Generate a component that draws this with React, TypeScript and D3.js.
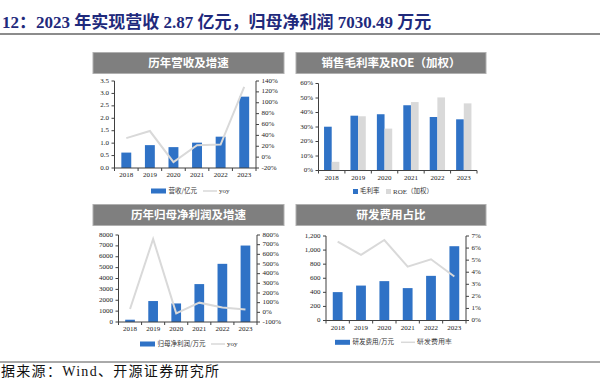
import React from "react";
import * as d3 from "d3";

const years = ["2018", "2019", "2020", "2021", "2022", "2023"];
// Panel 1
const revenue = [0.62, 0.92, 0.84, 1.02, 1.26, 2.87];
const revenueYoy = [35, 48, -9, 22, 23, 129];
const revTicks = [0, 0.5, 1.0, 1.5, 2.0, 2.5, 3.0, 3.5];
const revYoyTicks = [-20, 0, 20, 40, 60, 80, 100, 120, 140];
// Panel 2
const grossMargin = [30.2, 37.8, 38.8, 45.0, 36.9, 35.3];
const roe = [6.0, 37.4, 28.9, 47.2, 50.4, 46.3];
const marginTicks = [0, 10, 20, 30, 40, 50, 60];
// Panel 3
const netProfit = [210, 1927, 1706, 3486, 5349, 7030.49];
const netProfitYoy = [34, 759, -11, 100, 50, 30];
const profitTicks = [0, 1000, 2000, 3000, 4000, 5000, 6000, 7000, 8000];
const profitYoyTicks = [-100, 0, 100, 200, 300, 400, 500, 600, 700, 800];
// Panel 4
const rdExpense = [403, 496, 559, 460, 634, 1055];
const rdRatio = [6.53, 5.43, 6.67, 4.46, 5.07, 3.64];
const rdTicks = [0, 200, 400, 600, 800, 1000, 1200];
const rdRatioTicks = [0, 1, 2, 3, 4, 5, 6, 7];

const titleText = "12：2023 年实现营收 2.87 亿元，归母净利润 7030.49 万元";
const sourceText = "据来源：Wind、开源证券研究所";

const BLUE = "#2F72C6";
const GRAY = "#D9D9D9";
const AXIS = "#404040";
const SERIF = "'Liberation Serif', 'Times New Roman', serif";
const CJK = "'Noto Sans CJK SC', sans-serif";

type Geo = { x0: number; x1: number; yTop: number; yBot: number };

function Header({ x, y, w, h, text }: { x: number; y: number; w: number; h: number; text: string }) {
  return (
    <g>
      <rect x={x} y={y} width={w} height={h} fill="#7F7F7F" stroke="#B0B0B0" strokeWidth={1} />
      <text x={x + w / 2} y={y + h / 2 + 0.5} textAnchor="middle" dominantBaseline="middle"
        fill="#fff" fontFamily={CJK} fontWeight={700} fontSize={11.5}>{text}</text>
    </g>
  );
}

function XAxis({ g, x }: { g: Geo; x: d3.ScaleBand<string> }) {
  const step = x.step();
  const bounds = d3.range(years.length + 1).map((i) => g.x0 + i * step);
  return (
    <g>
      <line x1={g.x0} x2={g.x1} y1={g.yBot} y2={g.yBot} stroke={AXIS} strokeWidth={1} />
      {bounds.map((b, i) => (
        <line key={i} x1={b} x2={b} y1={g.yBot} y2={g.yBot + 3} stroke={AXIS} strokeWidth={1} />
      ))}
      {years.map((yr) => (
        <text key={yr} x={(x(yr) as number) + x.bandwidth() / 2} y={g.yBot + 7.5}
          textAnchor="middle" dominantBaseline="middle" fontFamily={SERIF} fontSize={7} fill="#222">{yr}</text>
      ))}
    </g>
  );
}

function YAxis({ g, scale, ticks, fmt, side }: {
  g: Geo; scale: d3.ScaleLinear<number, number>; ticks: number[]; fmt: (v: number) => string; side: "left" | "right";
}) {
  const ax = side === "left" ? g.x0 : g.x1;
  const dir = side === "left" ? -1 : 1;
  return (
    <g>
      <line x1={ax} x2={ax} y1={g.yTop} y2={g.yBot} stroke={AXIS} strokeWidth={1} />
      {ticks.map((t) => (
        <g key={t}>
          <line x1={ax} x2={ax + dir * 3} y1={scale(t)} y2={scale(t)} stroke={AXIS} strokeWidth={1} />
          <text x={ax + dir * 5.5} y={scale(t)} textAnchor={side === "left" ? "end" : "start"}
            dominantBaseline="middle" fontFamily={SERIF} fontSize={7} fill="#222">{fmt(t)}</text>
        </g>
      ))}
    </g>
  );
}

function BarLinePanel(props: {
  g: Geo; bars: number[]; line: number[]; leftTicks: number[]; rightTicks: number[];
  leftFmt: (v: number) => string; rightFmt: (v: number) => string;
  legendY: number; barLegendX: number; barLabel: string; lineLegendX: number; lineLabel: string;
}) {
  const { g } = props;
  const x = d3.scaleBand<string>().domain(years).range([g.x0, g.x1]).paddingInner(0.58).paddingOuter(0.29);
  const yL = d3.scaleLinear().domain([props.leftTicks[0], props.leftTicks[props.leftTicks.length - 1]]).range([g.yBot, g.yTop]);
  const yR = d3.scaleLinear().domain([props.rightTicks[0], props.rightTicks[props.rightTicks.length - 1]]).range([g.yBot, g.yTop]);
  const lineGen = d3.line<number>().x((_, i) => (x(years[i]) as number) + x.bandwidth() / 2).y((d) => yR(d));
  return (
    <g>
      {props.bars.map((v, i) => (
        <rect key={i} x={x(years[i])} y={yL(v)} width={x.bandwidth()} height={yL(0) - yL(v)} fill={BLUE} />
      ))}
      <XAxis g={g} x={x} />
      <YAxis g={g} scale={yL} ticks={props.leftTicks} fmt={props.leftFmt} side="left" />
      <YAxis g={g} scale={yR} ticks={props.rightTicks} fmt={props.rightFmt} side="right" />
      <path d={lineGen(props.line) || ""} fill="none" stroke={GRAY} strokeWidth={2} />
      <rect x={props.barLegendX} y={props.legendY - 2.5} width={15} height={5} fill={BLUE} />
      <text x={props.barLegendX + 17.5} y={props.legendY} dominantBaseline="middle" fontFamily={CJK} fontSize={6.5} fill="#333">{props.barLabel}</text>
      <line x1={props.lineLegendX} x2={props.lineLegendX + 14} y1={props.legendY} y2={props.legendY} stroke={GRAY} strokeWidth={1.5} />
      <text x={props.lineLegendX + 16} y={props.legendY} dominantBaseline="middle" fontFamily={SERIF} fontSize={7} fill="#333">{props.lineLabel}</text>
    </g>
  );
}

function GroupedPanel() {
  const g: Geo = { x0: 318.5, x1: 477, yTop: 83.5, yBot: 170.5 };
  const x = d3.scaleBand<string>().domain(years).range([g.x0, g.x1]).paddingInner(0.42).paddingOuter(0.21);
  const sub = d3.scaleBand<string>().domain(["m", "r"]).range([0, x.bandwidth()]);
  const y = d3.scaleLinear().domain([0, 60]).range([g.yBot, g.yTop]);
  return (
    <g>
      {grossMargin.map((v, i) => (
        <rect key={"m" + i} x={(x(years[i]) as number) + (sub("m") as number)} y={y(v)} width={sub.bandwidth()} height={y(0) - y(v)} fill={BLUE} />
      ))}
      {roe.map((v, i) => (
        <rect key={"r" + i} x={(x(years[i]) as number) + (sub("r") as number)} y={y(v)} width={sub.bandwidth()} height={y(0) - y(v)} fill={GRAY} />
      ))}
      <XAxis g={g} x={x} />
      <YAxis g={g} scale={y} ticks={marginTicks} fmt={(v) => v + "%"} side="left" />
      <rect x={353} y={189} width={5} height={5} fill={BLUE} />
      <text x={360} y={191.7} dominantBaseline="middle" fontFamily={CJK} fontSize={6.5} fill="#333">毛利率</text>
      <rect x={386} y={189} width={5} height={5} fill={GRAY} />
      <text x={393} y={191.7} dominantBaseline="middle" fontFamily={CJK} fontSize={6.5} fill="#333">
        <tspan fontFamily={SERIF} fontSize={7}>ROE</tspan>（加权）
      </text>
    </g>
  );
}

export default function App() {
  return (
    <svg width={605} height={392} style={{ position: "fixed", left: 0, top: 0, background: "#fff" }}>
      <rect x={0} y={0} width={605} height={392} fill="#fff" />
      <text x={2} y={27.5} fontFamily={`'Liberation Serif', ${CJK}`} fontWeight={700} fontSize={17} fill="#1F2A7C">{titleText}</text>
      <line x1={0} x2={600} y1={34} y2={34} stroke="#8C8C8C" strokeWidth={2} />

      <Header x={93} y={52.5} w={191} h={21} text="历年营收及增速" />
      <Header x={296} y={52.5} w={190} h={21} text="销售毛利率及ROE（加权）" />
      <Header x={93} y={204.5} w={191} h={21} text="历年归母净利润及增速" />
      <Header x={296} y={204.5} w={190} h={21} text="研发费用占比" />

      <BarLinePanel g={{ x0: 114.5, x1: 256, yTop: 81, yBot: 168 }} bars={revenue} line={revenueYoy}
        leftTicks={revTicks} rightTicks={revYoyTicks} leftFmt={(v) => v.toFixed(1)} rightFmt={(v) => v + "%"}
        legendY={191} barLegendX={151} barLabel="营收/亿元" lineLegendX={203} lineLabel="yoy" />
      <GroupedPanel />
      <BarLinePanel g={{ x0: 118.5, x1: 257, yTop: 235, yBot: 322 }} bars={netProfit} line={netProfitYoy}
        leftTicks={profitTicks} rightTicks={profitYoyTicks} leftFmt={(v) => String(v)} rightFmt={(v) => v + "%"}
        legendY={344} barLegendX={140} barLabel="归母净利润/万元" lineLegendX={211} lineLabel="yoy" />
      <BarLinePanel g={{ x0: 326, x1: 466, yTop: 236, yBot: 320.5 }} bars={rdExpense} line={rdRatio}
        leftTicks={rdTicks} rightTicks={rdRatioTicks} leftFmt={(v) => d3.format(",")(v)} rightFmt={(v) => v + "%"}
        legendY={342.3} barLegendX={335} barLabel="研发费用/万元" lineLegendX={401} lineLabel="研发费用率" />

      <line x1={0} x2={600} y1={362} y2={362} stroke="#555" strokeWidth={1} />
      <text x={1} y={375.5} fontFamily={`'Liberation Serif', ${CJK}`} fontSize={14} letterSpacing={1.3} fill="#111">{sourceText}</text>
    </svg>
  );
}
